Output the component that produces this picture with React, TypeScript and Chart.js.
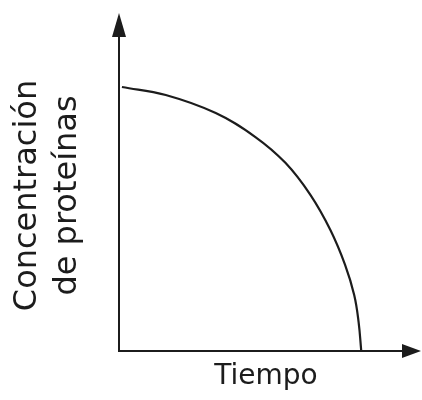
import React, { useEffect, useRef } from "react";
import { Chart, registerables } from "chart.js";

Chart.register(...registerables);

const tiempo: number[] = [1.0, 15.9, 32.9, 46.4, 56.6, 65.1, 71.9, 76.9, 80.0, 81.5, 82.4];
const concentracion: number[] = [84.9, 82.3, 76.5, 68.8, 60.5, 50.2, 38.9, 27.7, 18.0, 9.3, 0];
const xTitle = "Tiempo";
const yTitle: string[] = ["Concentración", "de proteínas"];

const INK = "#1c1c1c";

const arrowPlugin = {
  id: "axisArrows",
  afterDraw(chart: any) {
    const { ctx, chartArea } = chart;
    const { left, top, right, bottom } = chartArea;
    ctx.save();
    ctx.strokeStyle = INK;
    ctx.fillStyle = INK;
    ctx.lineWidth = 2;
    ctx.beginPath();
    ctx.moveTo(left, top + 1);
    ctx.lineTo(left, 30);
    ctx.stroke();
    ctx.beginPath();
    ctx.moveTo(left, 13);
    ctx.lineTo(left - 7, 37);
    ctx.lineTo(left + 7, 37);
    ctx.closePath();
    ctx.fill();
    ctx.beginPath();
    ctx.moveTo(right - 1, bottom);
    ctx.lineTo(410, bottom);
    ctx.stroke();
    ctx.beginPath();
    ctx.moveTo(421, bottom);
    ctx.lineTo(402, bottom - 7);
    ctx.lineTo(402, bottom + 7);
    ctx.closePath();
    ctx.fill();
    ctx.restore();
  },
};

export default function App() {
  const ref = useRef<HTMLCanvasElement | null>(null);
  useEffect(() => {
    if (!ref.current) return;
    const chart = new Chart(ref.current, {
      type: "line",
      data: {
        datasets: [
          {
            data: tiempo.map((x, i) => ({ x, y: concentracion[i] })),
            borderColor: INK,
            borderWidth: 2.2,
            pointRadius: 0,
            tension: 0.4,
            fill: false,
          },
        ],
      },
      options: {
        animation: false,
        responsive: true,
        maintainAspectRatio: false,
        layout: { padding: { top: 40, right: 9, left: 0, bottom: 0 } },
        plugins: { legend: { display: false }, tooltip: { enabled: false } },
        scales: {
          x: {
            type: "linear",
            min: 0,
            max: 100,
            grid: { display: false },
            border: { display: true, color: INK, width: 2 },
            ticks: { display: false },
            afterFit: (s: any) => {
              s.height = 49;
            },
            title: {
              display: true,
              text: xTitle,
              color: INK,
              font: { family: "'DejaVu Sans'", size: 28, lineHeight: 1.2 },
              padding: { top: 0, bottom: 6 },
            },
          },
          y: {
            type: "linear",
            min: 0,
            max: 100,
            grid: { display: false },
            border: { display: true, color: INK, width: 2 },
            ticks: { display: false },
            afterFit: (s: any) => {
              s.width = 119;
            },
            title: {
              display: true,
              text: yTitle,
              color: INK,
              font: { family: "'DejaVu Sans'", size: 32, lineHeight: 1.25 },
              padding: { top: 8, bottom: 0 },
            },
          },
        },
      },
      plugins: [arrowPlugin],
    });
    return () => chart.destroy();
  }, []);
  return (
    <div style={{ position: "fixed", left: 0, top: 0, width: 422, height: 400, background: "#fff" }}>
      <canvas ref={ref} />
    </div>
  );
}
